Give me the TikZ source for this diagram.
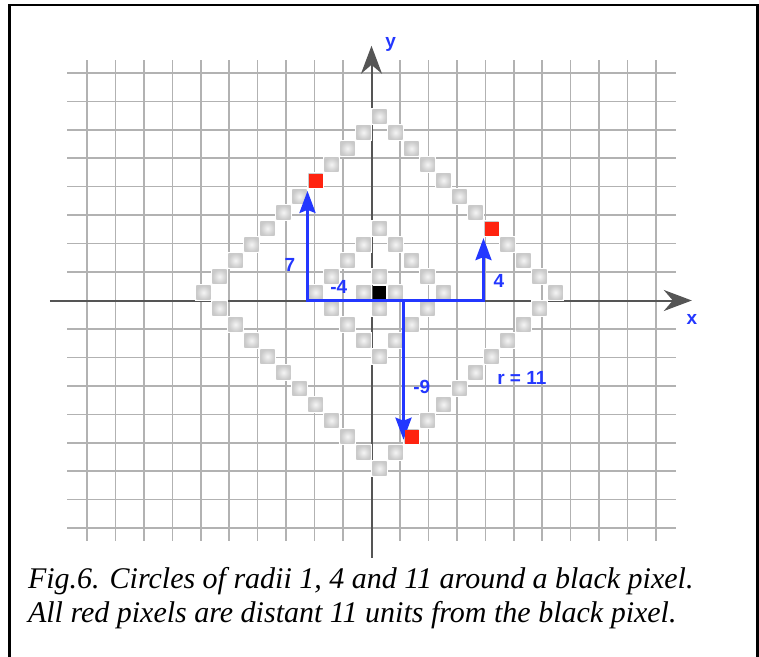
\documentclass[tikz,border=0pt]{standalone}
\usepackage{fontspec}
\setmainfont{Liberation Serif}
\setsansfont{Liberation Sans}
\usetikzlibrary{arrows.meta}

\definecolor{gridgray}{RGB}{178,178,178}
\definecolor{axisgray}{RGB}{85,85,85}
\definecolor{pixblue}{RGB}{35,55,255}
\definecolor{pixred}{RGB}{255,35,15}

\begin{document}
\begin{tikzpicture}[
    x=16pt, y=16pt,
    gridline/.style={draw=gridgray, line width=1.5pt},
    axis/.style={draw=axisgray, line width=2pt,
      -{Stealth[length=28pt, width=21pt, inset=9pt]}},
    cover/.style={fill=white},
    graypix/.style={inner color=gray!8, outer color=gray!42},
    redpix/.style={fill=pixred, minimum size=14pt, inner sep=0pt},
    blackpix/.style={fill=black, minimum size=13.5pt, inner sep=0pt},
    bluearrow/.style={draw=pixblue, line width=3pt,
      {Stealth[length=22pt, width=16pt, inset=3pt]}-{Stealth[length=22pt, width=16pt, inset=3pt]}},
    downarrow/.style={draw=pixblue, line width=3pt,
      -{Stealth[length=22pt, width=16pt, inset=3pt]}},
    lbl/.style={font=\sffamily\bfseries\fontsize{19}{19}\selectfont,
      text=pixblue, inner sep=0pt},
    caption/.style={font=\itshape\fontsize{30}{36}\selectfont,
      anchor=base west, inner sep=0pt},
    frame/.style={draw=black, line width=2.5pt}
  ]
    \useasboundingbox (-23.21875,-22.21875) rectangle (24.21875,18.78125);

    % frame, open at the bottom
    \draw[frame] (-22.61,-22.6) -- (-22.61,18.48) -- (24.125,18.48) -- (24.125,-22.6);

    % pixel grid
    \draw[gridline] (-19,-15) grid (19,15);

    % axes
    \coordinate (xl) at (-20.1,0);
    \coordinate (xr) at (20.02,0);
    \coordinate (yb) at (0,-16.08);
    \coordinate (yt) at (0,15.92);
    \draw[axis] (xl) -- (xr);
    \draw[axis] (yb) -- (yt);

    % circles of radii 1, 4 and 11
    \foreach \r in {1,4,11}{
      \foreach \i in {-\r,...,\r}{
        \foreach \s in {1,-1}{
          \pgfmathtruncatemacro{\j}{\s*(\r-abs(\i))}
          \fill[cover] (\i-0.06,\j-0.06) rectangle ++(1.12,1.12);
          \shade[graypix] (\i+0.06,\j+0.06) rectangle ++(0.88,0.88);
        }
      }
    }

    % offsets to the red pixels
    \coordinate (a) at (-4,0);
    \coordinate (b) at (7,0);
    \coordinate (c) at (2,0);
    \coordinate (ta) at (-4,6.85);
    \coordinate (tb) at (7,3.9);
    \coordinate (tc) at (2,-8.7);
    \draw[bluearrow] (ta) -- (a) -- (b) -- (tb);
    \draw[downarrow] (c) -- (tc);

    \node[blackpix] (blk) at (0.5,0.5) {};
    \node[redpix] (redA) at (-3.5,7.5) {};
    \node[redpix] (redB) at (7.5,4.5) {};
    \node[redpix] (redC) at (2.5,-8.5) {};

    \node[lbl] (xlab) at (20.02,-1.2) {x};
    \node[lbl] (ylab) at (1.2,15.98) {y};
    \node[lbl] (l7) at (-5.1,2.23) {7};
    \node[lbl] (lm4) at (-2.04,0.86) {-4};
    \node[lbl] (l4) at (7.96,1.23) {4};
    \node[lbl] (lm9) at (3.14,-5.39) {-9};
    \node[lbl] (lr) at (9.4,-4.83) {r = 11};

    \node[caption] (cap1) at (-21.48,-18.0) {Fig.6. Circles of radii 1, 4 and 11 around a black pixel.};
    \node[caption] (cap2) at (-21.48,-20.15) {All red pixels are distant 11 units from the black pixel.};
  \end{tikzpicture}
\end{document}
